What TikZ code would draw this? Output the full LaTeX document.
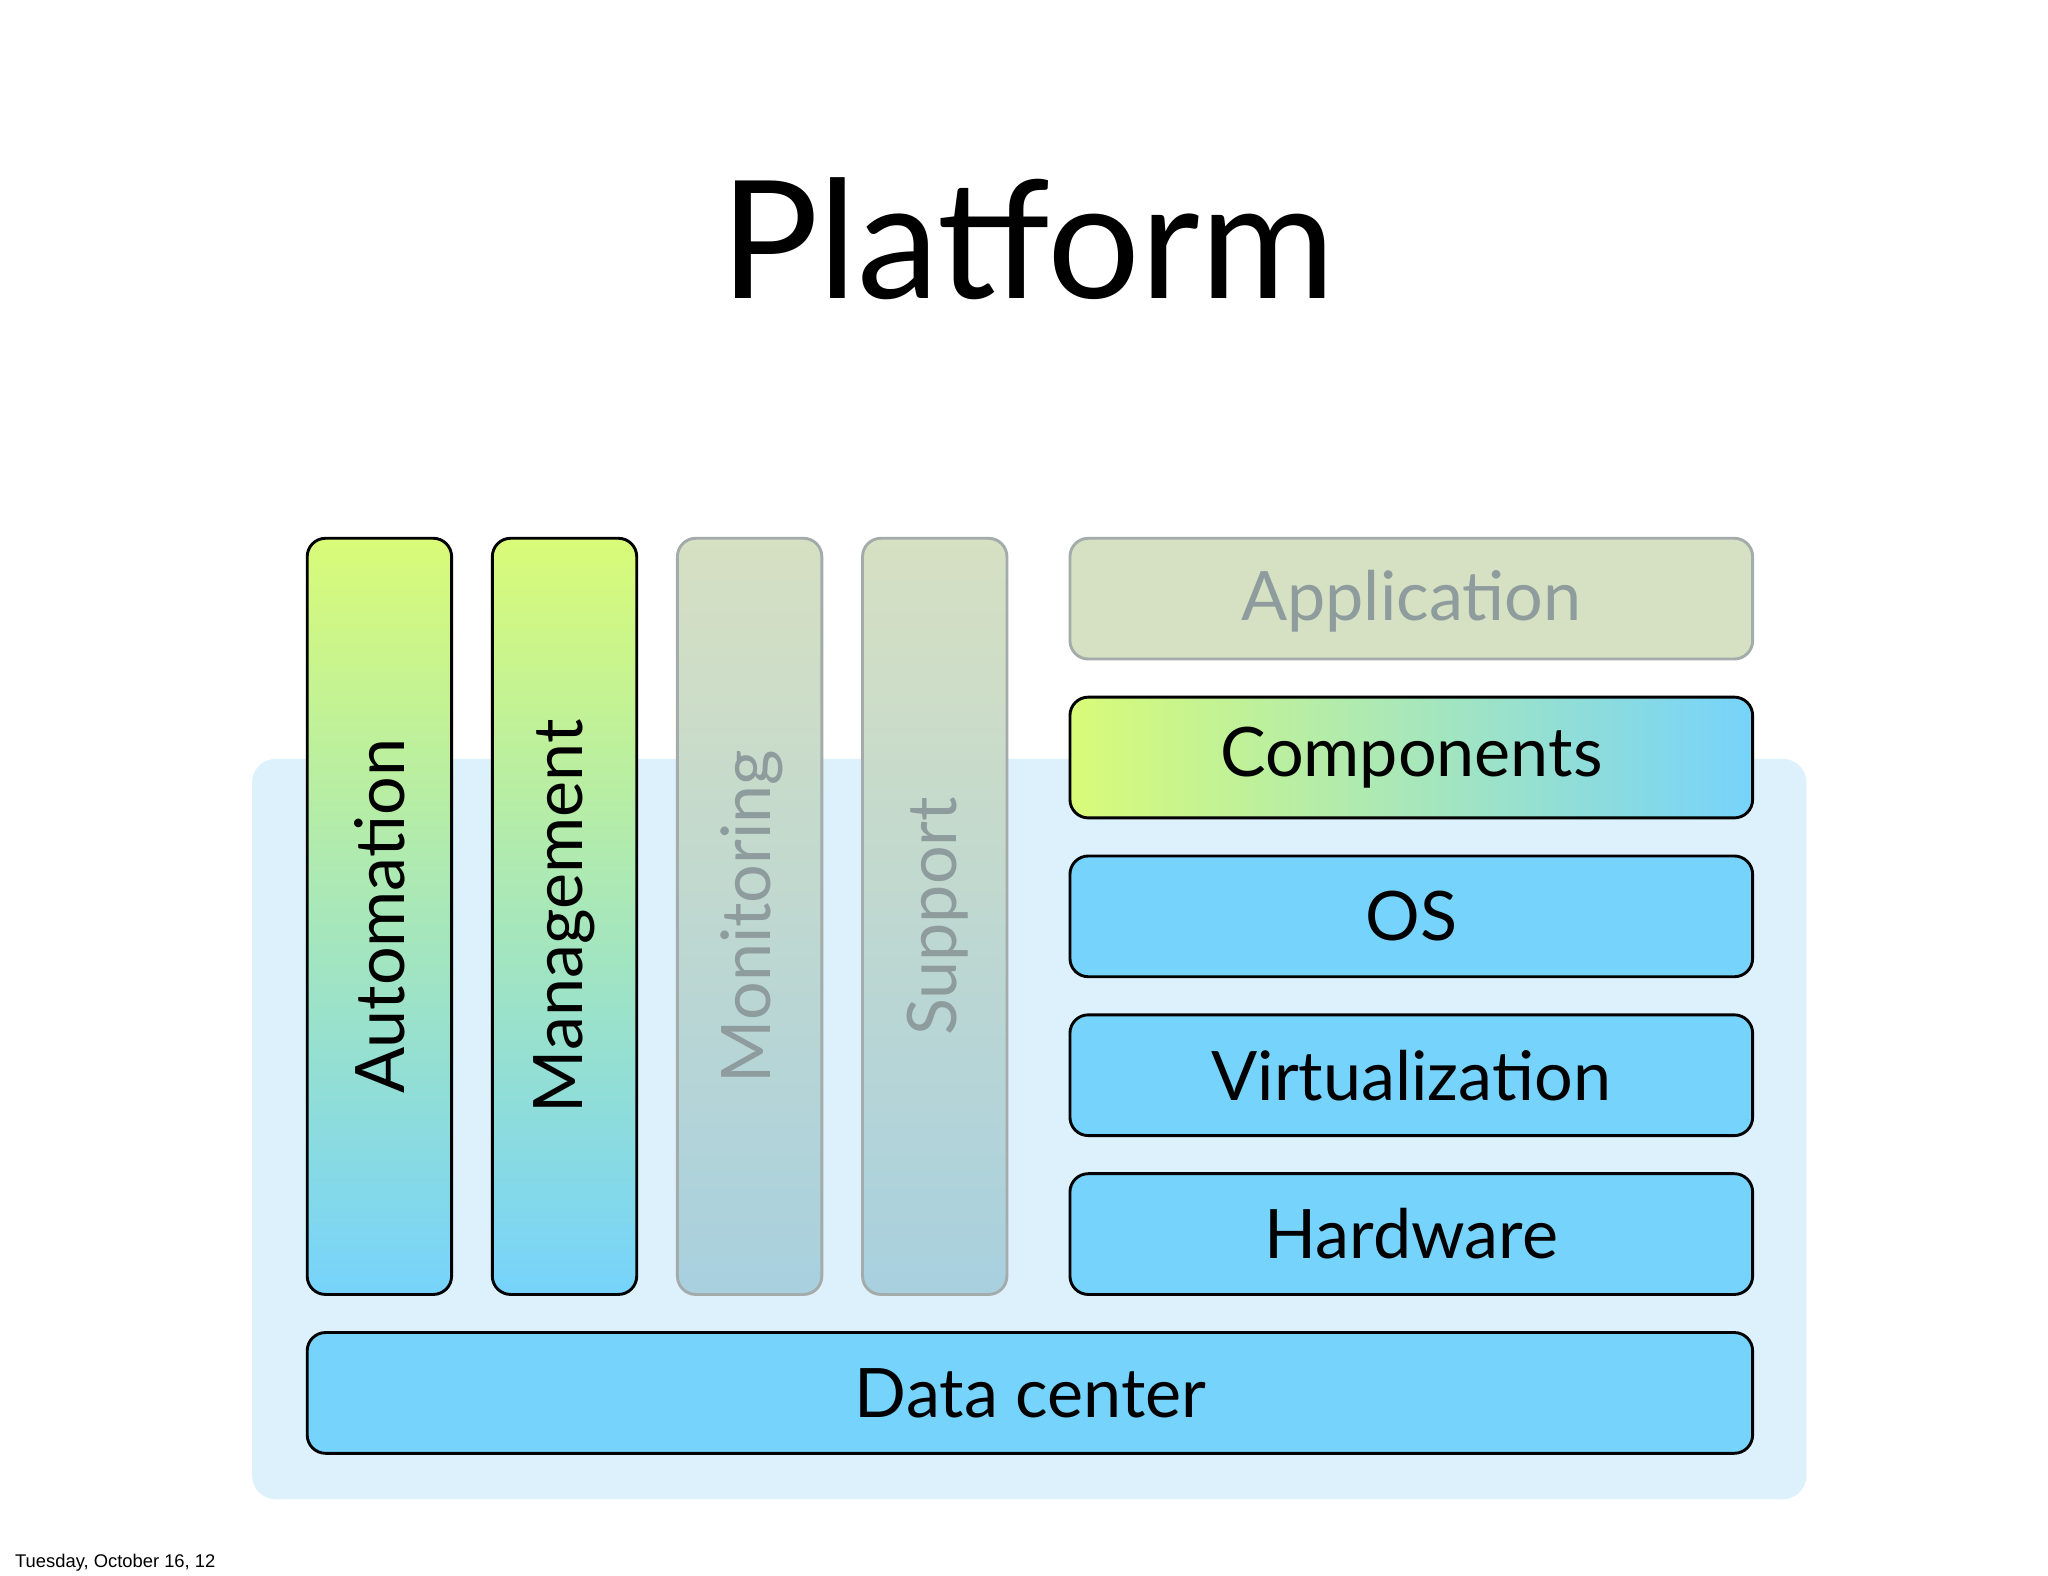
\documentclass[tikz,border=0pt]{standalone}
\usepackage{fontspec}
\setmainfont{Lato}
\setsansfont{Liberation Sans}
\begin{document}
\begin{tikzpicture}[x=1pt,y=-1pt,
 box/.style={rounded corners=14pt,line width=2.2pt,draw=black},
 lbl/.style={font=\fontsize{52}{56}\selectfont},
 vbar/.style={box,top color=green!10!yellow!55!lime!60,bottom color=bcol},
 fbar/.style={rounded corners=14pt,line width=2.2pt,draw=fgray,top color=ftop,bottom color=fbot},
]
\definecolor{bcol}{HTML}{76D3FB}
\definecolor{gcol}{HTML}{D9FB78}
\definecolor{bgc}{HTML}{DDF1FC}
\definecolor{fgray}{HTML}{A3ABAB}
\definecolor{ftop}{HTML}{D6E0C2}
\definecolor{fbot}{HTML}{A8D0DF}
\definecolor{ftxt}{HTML}{8E9C9E}
\useasboundingbox (0,0) rectangle (1560,1200);
\fill[bgc,rounded corners=18pt] (192,578) rectangle (1376,1142);
\node[font=\fontsize{125}{130}\selectfont] (title) at (783,182) {Platform};
\node[anchor=west,font=\sffamily\fontsize{14}{16}\selectfont] (date) at (8,1190) {Tuesday, October 16, 12};
% vertical bars
\draw[box,top color=gcol,bottom color=bcol] (234,410) rectangle (344,986);
\node[lbl,rotate=90] (auto) at (289,698) {Automation};
\draw[box,top color=gcol,bottom color=bcol] (375,410) rectangle (485,986);
\node[lbl,rotate=90] (mgmt) at (430,698) {Management};
\draw[fbar] (516,410) rectangle (626,986);
\node[lbl,rotate=90,text=ftxt] (mon) at (573,698) {Monitoring};
\draw[fbar] (657,410) rectangle (767,986);
\node[lbl,rotate=90,text=ftxt] (sup) at (714,698) {Support};
% horizontal
\draw[fbar,top color=ftop,bottom color=ftop] (815,410) rectangle (1335,502);
\node[lbl,text=ftxt] (app) at (1075,458) {Application};
\draw[box,left color=gcol,right color=bcol] (815,531) rectangle (1335,623);
\node[lbl] (comp) at (1075,577) {Components};
\draw[box,fill=bcol] (815,652) rectangle (1335,744);
\node[lbl] (os) at (1075,698) {OS};
\draw[box,fill=bcol] (815,773) rectangle (1335,865);
\node[lbl] (virt) at (1075,819) {Virtualization};
\draw[box,fill=bcol] (815,894) rectangle (1335,986);
\node[lbl] (hw) at (1075,940) {Hardware};
\draw[box,fill=bcol] (234,1015) rectangle (1335,1107);
\node[lbl] (dc) at (785,1061) {Data center};
\end{tikzpicture}
\end{document}
